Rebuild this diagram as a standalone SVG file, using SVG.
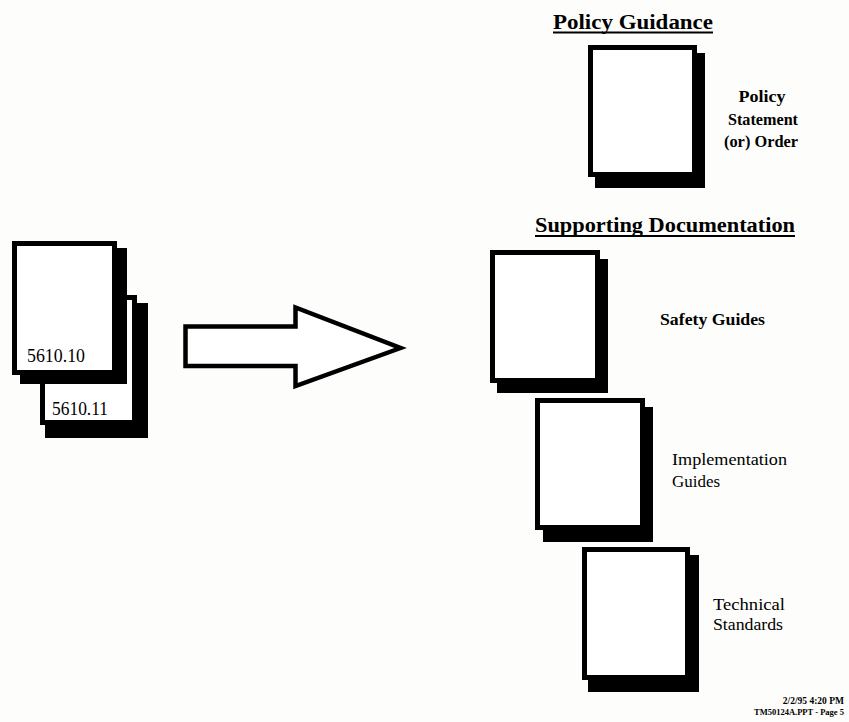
<svg xmlns="http://www.w3.org/2000/svg" width="849" height="722" viewBox="0 0 849 722">
<style>
.bg{fill:#fdfdfb}
.page{fill:#ffffff;stroke:#000;stroke-width:5}
.shadow{fill:#000}
.t{font-family:"Liberation Serif","Times New Roman",serif;fill:#000}
.h{font-size:20px;font-weight:bold}
.lbl{font-size:16px}
.num{font-size:18px}
.b{font-weight:bold}
.ul{stroke:#000;stroke-width:2}
.foot{font-weight:bold}
</style>
<rect class="bg" x="0" y="0" width="849" height="722"/>

<g id="doc-5610-11">
<rect class="shadow" x="45" y="303" width="103" height="135"/>
<rect class="page" x="42.5" y="297.5" width="92" height="125"/>
<text class="t num" x="52" y="415" textLength="56" lengthAdjust="spacingAndGlyphs">5610.11</text>
</g>
<g id="doc-5610-10">
<rect class="shadow" x="20" y="248" width="107" height="136"/>
<rect class="page" x="14.5" y="243.5" width="100" height="129"/>
<text class="t num" x="27" y="362" textLength="58" lengthAdjust="spacingAndGlyphs">5610.10</text>
</g>

<g id="connectors">
<polygon points="185.5,326.5 295.5,326.5 295.5,307.5 400.5,348 295.5,386 295.5,366 185.5,366" fill="#fff" stroke="#000" stroke-width="4.5" stroke-linejoin="miter"/>
</g>

<g id="heading-policy">
<text class="t h" x="553" y="29" textLength="160" lengthAdjust="spacingAndGlyphs">Policy Guidance</text>
<line class="ul" x1="553" y1="32.5" x2="713" y2="32.5"/>
</g>
<g id="doc-policy">
<rect class="shadow" x="595" y="53" width="110" height="135"/>
<rect class="page" x="590.5" y="47.5" width="104" height="127"/>
<text class="t lbl b" x="762" y="102" text-anchor="middle" textLength="47" lengthAdjust="spacingAndGlyphs">Policy</text>
<text class="t lbl b" x="763" y="125" text-anchor="middle" textLength="70" lengthAdjust="spacingAndGlyphs">Statement</text>
<text class="t lbl b" x="761" y="147" text-anchor="middle" textLength="74" lengthAdjust="spacingAndGlyphs">(or) Order</text>
</g>

<g id="heading-supporting">
<text class="t h" x="535" y="232" textLength="260" lengthAdjust="spacingAndGlyphs">Supporting Documentation</text>
<line class="ul" x1="535" y1="236" x2="795" y2="236"/>
</g>
<g id="doc-safety">
<rect class="shadow" x="497" y="259" width="111" height="134"/>
<rect class="page" x="492.5" y="252.5" width="105" height="128"/>
<text class="t lbl b" x="660" y="325" textLength="105" lengthAdjust="spacingAndGlyphs">Safety Guides</text>
</g>
<g id="doc-implementation">
<rect class="shadow" x="543" y="407" width="110" height="135"/>
<rect class="page" x="537.5" y="400.5" width="105" height="127"/>
<text class="t lbl" x="672" y="465" textLength="115" lengthAdjust="spacingAndGlyphs">Implementation</text>
<text class="t lbl" x="672" y="487" textLength="48" lengthAdjust="spacingAndGlyphs">Guides</text>
</g>
<g id="doc-technical">
<rect class="shadow" x="588" y="555" width="111" height="137"/>
<rect class="page" x="584.5" y="549.5" width="103" height="128"/>
<text class="t lbl" x="713" y="610" textLength="72" lengthAdjust="spacingAndGlyphs">Technical</text>
<text class="t lbl" x="713" y="630" textLength="70" lengthAdjust="spacingAndGlyphs">Standards</text>
</g>

<g id="footer">
<text class="t foot" x="844" y="704" text-anchor="end" font-size="9.5">2/2/95 4:20 PM</text>
<text class="t foot" x="844" y="715" text-anchor="end" font-size="8.5">TM50124A.PPT - Page 5</text>
</g>
</svg>
